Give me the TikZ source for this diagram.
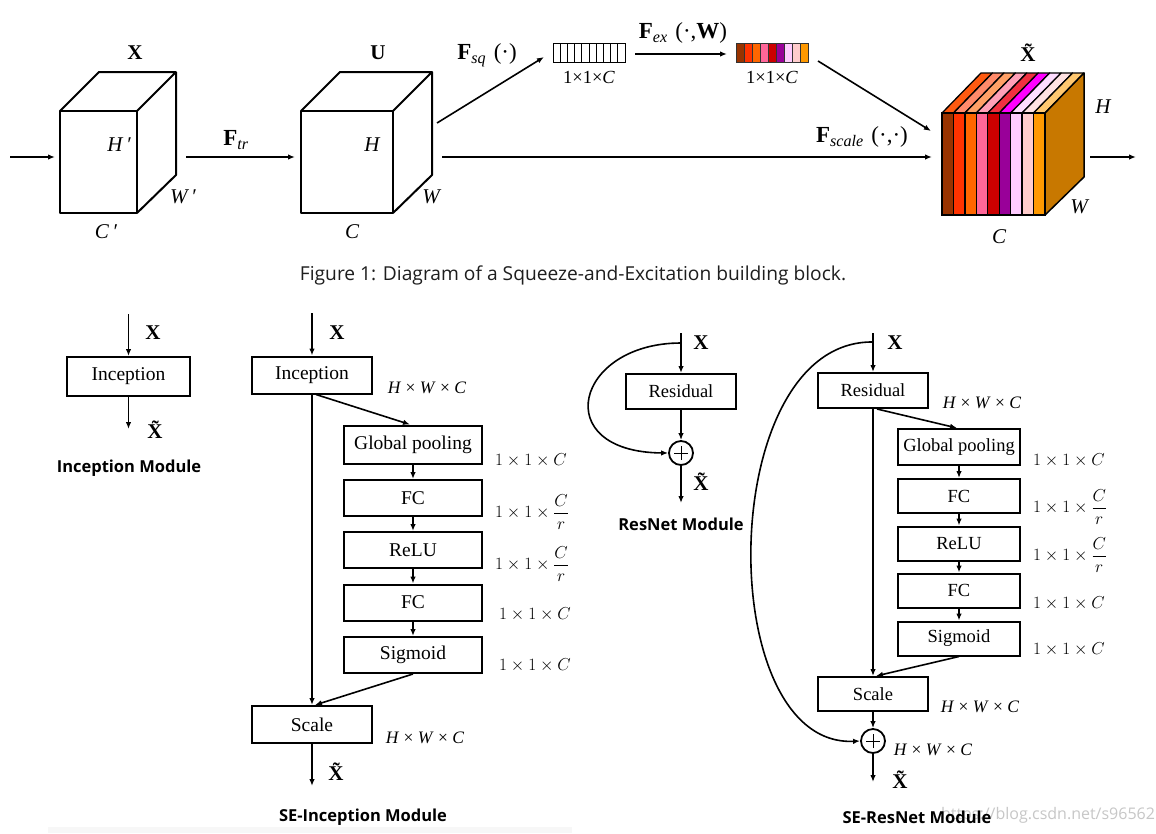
\documentclass[tikz,border=0pt]{standalone}
\usepackage{fontspec}
\setmainfont{Liberation Serif}
\newfontfamily\capfont{Open Sans}
\usetikzlibrary{arrows.meta}
\newcommand{\fsz}[1]{\fontsize{#1}{#1}\selectfont}
\newcommand{\hwc}{\textit{H} × \textit{W} × \textit{C}}
\definecolor{cA}{HTML}{993300}
\definecolor{cB}{HTML}{FF3300}
\definecolor{cC}{HTML}{FF6600}
\definecolor{cD}{HTML}{FF6699}
\definecolor{cE}{HTML}{CC0000}
\definecolor{cF}{HTML}{990099}
\definecolor{cG}{HTML}{FFCCFF}
\definecolor{cH}{HTML}{FFCCCC}
\definecolor{cI}{HTML}{FF9900}
\definecolor{tA}{HTML}{FF5A10}
\definecolor{tB}{HTML}{FF8A6A}
\definecolor{tC}{HTML}{FFA066}
\definecolor{tD}{HTML}{FFA0B8}
\definecolor{tE}{HTML}{F03040}
\definecolor{tF}{HTML}{FF00FF}
\definecolor{tG}{HTML}{FFDDFF}
\definecolor{tH}{HTML}{FFE2E2}
\definecolor{tI}{HTML}{FFC870}
\definecolor{sideC}{HTML}{C87800}
\definecolor{capgray}{HTML}{1E1E1E}
\begin{document}
\begin{tikzpicture}[x=1pt,y=-1pt,
  ar/.style={line width=1.6pt,-{Latex[length=7pt,width=5.5pt]}},
  box/.style={draw,line width=2pt,fill=white,inner sep=0pt,font=\fsz{19.5}},
  sbox/.style={draw,line width=2pt,fill=white,inner sep=0pt,font=\fsz{18.5}},
  dim/.style={inner sep=0pt,font=\fsz{16.5}},
  hw/.style={inner sep=0pt,font=\fsz{17.5}},
  bx/.style={inner sep=0pt,font=\bfseries\fsz{21}},
  itl/.style={inner sep=0pt,font=\itshape\fsz{21}},
  flab/.style={inner sep=0pt,font=\fsz{23}},
  vlab/.style={inner sep=0pt,font=\fsz{18.5}},
  modl/.style={inner sep=0pt,font=\capfont\bfseries\fsz{16.5}},
  cl/.style={line width=2pt,line join=round},
  plus/.style={draw,circle,line width=1.8pt,minimum size=24pt,inner sep=0pt,fill=white}]

\path[fill=white] (0,0) rectangle (1156,833);
\useasboundingbox (0,0) rectangle (1156,833);

% ================= TOP: SE block =================
% cube X
\draw[cl,fill=white] (60,111) rectangle (137,213);
\draw[cl] (60,111) -- ++(39,-39) -- ++(77,0) -- ++(0,103) -- (137,213) (137,111) -- ++(39,-39);
\node[bx] (tX) at (135,53) {X};
\node[itl] (tH1) at (119,145) {H\,′};
\node[itl] (tW1) at (183,197) {W\,′};
\node[itl] (tC1) at (106,232) {C\,′};
% cube U
\draw[cl,fill=white] (301,111) rectangle (393,213);
\draw[cl] (301,111) -- ++(39,-39) -- ++(92,0) -- ++(0,103) -- (393,213) (393,111) -- ++(39,-39);
\node[bx] (tU) at (378,53) {U};
\node[itl] (tH2) at (372,145) {H};
\node[itl] (tW2) at (431,197) {W};
\node[itl] (tC2) at (352,232) {C};

\coordinate (in0) at (10,157);
\coordinate (in1) at (55,157);
\coordinate (tr0) at (186,157);
\coordinate (tr1) at (295,157);
\draw[ar] (in0) -- (in1);
\draw[ar] (tr0) -- (tr1);
\node[flab] (Ftr) at (236,140) {\textbf{F}\textsubscript{\textit{tr}}};

% squeeze vector
\foreach \i in {0,...,9} \draw[line width=1pt] ({553+\i*7.2},43) rectangle ++(7.2,19);
\node[vlab] (v1l) at (589,77) {1×1×\textit{C}};
\coordinate (sq0) at (437,123);
\coordinate (sq1) at (544,57);
\draw[ar] (sq0) -- (sq1);
\node[flab] (Fsq) at (487,55) {\textbf{F}\textsubscript{\textit{sq}}\,\,(·)};

% excitation vector
\foreach \c [count=\i from 0] in {cA,cB,cC,cD,cE,cF,cG,cH,cI}
  \filldraw[fill=\c,draw=black!80,line width=1pt] ({736+\i*8},43) rectangle ++(8,19);
\node[vlab] (v2l) at (772,77) {1×1×\textit{C}};
\coordinate (ex0) at (635,54);
\coordinate (ex1) at (727,54);
\draw[ar] (ex0) -- (ex1);
\node[flab] (Fex) at (683,33) {\textbf{F}\textsubscript{\textit{ex}}\,\,(·,\textbf{W})};

\coordinate (v2o) at (818,61);
\coordinate (cin) at (931,131);
\draw[ar] (v2o) -- (cin);

% scale path
\coordinate (sc0) at (442,157);
\coordinate (sc1) at (932,157);
\draw[ar] (sc0) -- (sc1);
\node[flab] (Fsc) at (862,137) {\textbf{F}\textsubscript{\textit{scale}}\,\,(·,·)};

% output cube
\foreach \c [count=\i from 0] in {cA,cB,cC,cD,cE,cF,cG,cH,cI}
  \filldraw[fill=\c,draw=black,line width=1.3pt] ({942+\i*11.444},113) rectangle ++(11.444,102);
\foreach \c [count=\i from 0] in {tA,tB,tC,tD,tE,tF,tG,tH,tI}
  \filldraw[fill=\c,draw=black,line width=1.3pt,line join=round] ({942+\i*11.444},113) -- ++(11.444,0) -- ++(39,-40) -- ++(-11.444,0) -- cycle;
\filldraw[fill=sideC,draw=black,line width=1.5pt,line join=round] (1045,113) -- ++(39,-40) -- ++(0,104) -- (1045,215) -- cycle;
\draw[line width=1.8pt,line join=round] (942,113) rectangle (1045,215);
\node[bx] (tXt) at (1028,53) {\~{X}};
\node[itl] (tH3) at (1103,107) {H};
\node[itl] (tW3) at (1079,207) {W};
\node[itl] (tC3) at (999,237) {C};
\coordinate (out0) at (1090,157);
\coordinate (out1) at (1136,157);
\draw[ar] (out0) -- (out1);

% caption
\node[inner sep=0pt,font=\capfont\fsz{19.2},text=capgray] (cap) at (573,275) {Figure 1: Diagram of a Squeeze-and-Excitation building block.};

% ================= Inception module =================
\coordinate (i0) at (128.5,314);
\node[box,minimum width=123pt,minimum height=39pt] (inc1) at (128.5,376.5) {Inception};
\coordinate (i1) at (128.5,429);
\draw[ar] (i0) -- (inc1.north);
\draw[ar] (inc1.south) -- (i1);
\node[bx] (iX) at (153,333) {X};
\node[bx] (iXt) at (155,430) {\~{X}};
\node[modl] (iM) at (129,468) {Inception Module};

% ================= SE-Inception =================
\coordinate (s0) at (312,313);
\node[box,minimum width=120pt,minimum height=37pt] (sinc) at (312,375) {Inception};
\node[box,minimum width=138pt,minimum height=38pt] (sgp) at (413,444.5) {Global pooling};
\node[box,minimum width=138pt,minimum height=36pt] (sfc1) at (413,498) {FC};
\node[box,minimum width=138pt,minimum height=36pt] (srelu) at (413,550) {ReLU};
\node[box,minimum width=138pt,minimum height=36pt] (sfc2) at (413,602.5) {FC};
\node[box,minimum width=138pt,minimum height=36pt] (ssig) at (413,655) {Sigmoid};
\node[box,minimum width=120pt,minimum height=37pt] (sscale) at (312,724.5) {Scale};
\coordinate (s1) at (312,786);
\draw[ar] (s0) -- (sinc.north);
\draw[ar] (sinc.south) -- (sscale.north);
\draw[ar] ([xshift=4pt]sinc.south) -- ([xshift=-3pt]sgp.north);
\draw[ar] (sgp.south) -- (sfc1.north);
\draw[ar] (sfc1.south) -- (srelu.north);
\draw[ar] (srelu.south) -- (sfc2.north);
\draw[ar] (sfc2.south) -- (ssig.north);
\draw[ar] (ssig.south) -- ([xshift=3pt]sscale.north);
\draw[ar] (sscale.south) -- (s1);
\node[bx] (sX) at (337,333) {X};
\node[bx] (sXt) at (336,772) {\~{X}};
\node[hw] (sd0) at (427,388) {\hwc};
\node[dim,anchor=west] (sd1) at (495,460) {$1\times1\times C$};
\node[dim,anchor=west] (sd2) at (495,512) {$1\times1\times{\displaystyle\frac{C}{r}}$};
\node[dim,anchor=west] (sd3) at (495,564) {$1\times1\times{\displaystyle\frac{C}{r}}$};
\node[dim,anchor=west] (sd4) at (499,614) {$1\times1\times C$};
\node[dim,anchor=west] (sd5) at (499,665) {$1\times1\times C$};
\node[hw] (sd6) at (425,738) {\hwc};
\node[modl] (sM) at (363,817) {SE-Inception Module};
\fill[black!3] (48,827) rectangle (572,833);

% ================= ResNet module =================
\coordinate (r0) at (681,333);
\coordinate (rsplit) at (681,343);
\node[sbox,minimum width=110pt,minimum height=35pt] (res1) at (681,391.5) {Residual};
\node[plus] (rp) at (681,453) {};
\draw[line width=1pt] ([xshift=-7pt]rp.center) -- ([xshift=7pt]rp.center) ([yshift=-7pt]rp.center) -- ([yshift=7pt]rp.center);
\coordinate (r1) at (681,503);
\draw[ar] (r0) -- (res1.north);
\draw[ar] (res1.south) -- (rp.north);
\draw[ar] (rp.south) -- (r1);
\draw[ar] (rsplit) .. controls (575,343) and (548,452) .. (rp.west);
\node[bx] (rX) at (701,343) {X};
\node[bx] (rXt) at (701,482) {\~{X}};
\node[modl] (rM) at (681,524) {ResNet Module};

% ================= SE-ResNet =================
\coordinate (e0) at (873,333);
\coordinate (esplit) at (873,342);
\node[sbox,minimum width=110pt,minimum height=35pt] (eres) at (873,390.5) {Residual};
\node[sbox,minimum width=122pt,minimum height=36pt] (egp) at (959,447) {Global pooling};
\node[sbox,minimum width=122pt,minimum height=34pt] (efc1) at (959,496) {FC};
\node[sbox,minimum width=122pt,minimum height=34pt] (erelu) at (959,543.5) {ReLU};
\node[sbox,minimum width=122pt,minimum height=34pt] (efc2) at (959,590.5) {FC};
\node[sbox,minimum width=122pt,minimum height=34pt] (esig) at (959,638.5) {Sigmoid};
\node[sbox,minimum width=110pt,minimum height=34pt] (escale) at (873,694) {Scale};
\node[plus] (ep) at (873,741) {};
\draw[line width=1pt] ([xshift=-7pt]ep.center) -- ([xshift=7pt]ep.center) ([yshift=-7pt]ep.center) -- ([yshift=7pt]ep.center);
\coordinate (e1) at (873,782);
\draw[ar] (e0) -- (eres.north);
\draw[ar] (eres.south) -- (escale.north);
\draw[ar] ([xshift=4pt]eres.south) -- ([xshift=-2pt]egp.north);
\draw[ar] (egp.south) -- (efc1.north);
\draw[ar] (efc1.south) -- (erelu.north);
\draw[ar] (erelu.south) -- (efc2.north);
\draw[ar] (efc2.south) -- (esig.north);
\draw[ar] (esig.south) -- ([xshift=3pt]escale.north);
\draw[ar] (escale.south) -- (ep.north);
\draw[ar] (ep.south) -- (e1);
\draw[ar] (esplit) .. controls (715,340) and (712,748) .. (ep.west);
\node[bx] (eX) at (895,343) {X};
\node[bx] (eXt) at (900,780) {\~{X}};
\node[hw] (ed0) at (982,403) {\hwc};
\node[dim,anchor=west] (ed1) at (1033,460) {$1\times1\times C$};
\node[dim,anchor=west] (ed2) at (1033,507) {$1\times1\times{\displaystyle\frac{C}{r}}$};
\node[dim,anchor=west] (ed3) at (1033,555) {$1\times1\times{\displaystyle\frac{C}{r}}$};
\node[dim,anchor=west] (ed4) at (1033,603) {$1\times1\times C$};
\node[dim,anchor=west] (ed5) at (1033,649) {$1\times1\times C$};
\node[hw] (ed6) at (980,707) {\hwc};
\node[hw] (ed7) at (933,750) {\hwc};
\node[inner sep=0pt,font=\capfont\fsz{16},text=black!22] (wm) at (1048,815) {https://blog.csdn.net/s96562};
\node[modl] (eM) at (917,817) {SE-ResNet Module};
\end{tikzpicture}
\end{document}
